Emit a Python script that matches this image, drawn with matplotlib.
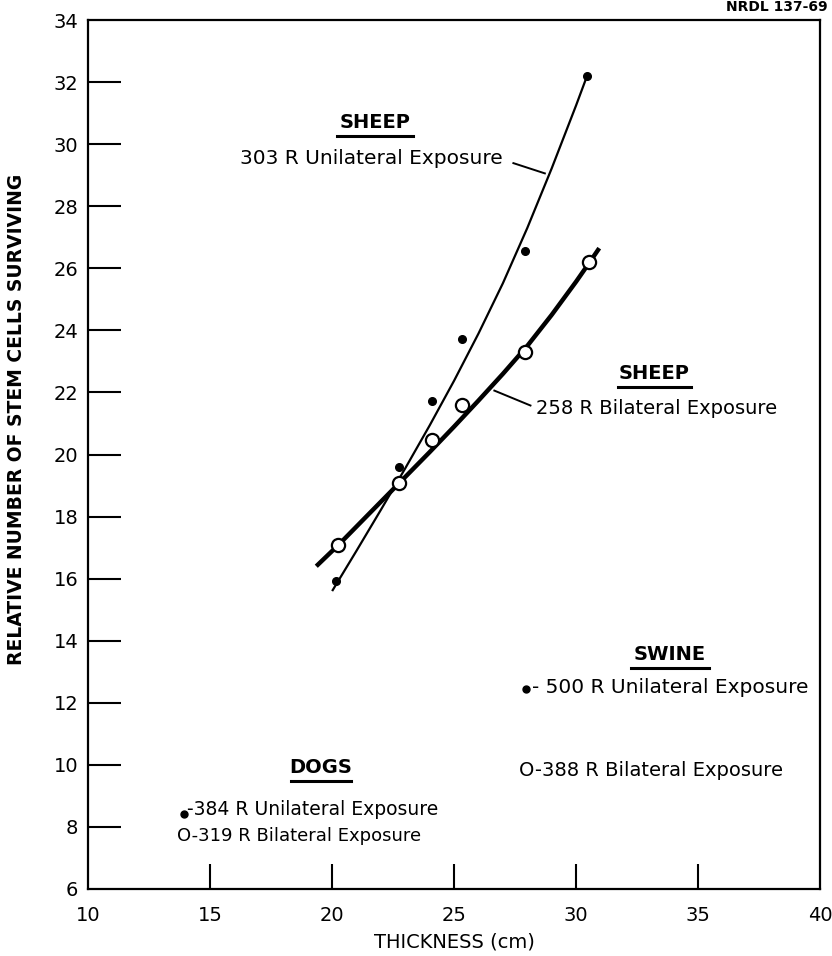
import matplotlib
matplotlib.use('Agg')
import matplotlib.pyplot as plt

plt.rcParams['font.family'] = 'DejaVu Sans'

# sheep, measured points
sheep_uni_x = [20.15, 22.75, 24.08, 25.34, 27.92, 30.44]
sheep_uni_y = [15.94, 19.59, 21.73, 23.73, 26.55, 32.19]
sheep_bi_x = [20.25, 22.75, 24.08, 25.34, 27.92, 30.55]
sheep_bi_y = [17.08, 19.08, 20.46, 21.59, 23.30, 26.19]

# hand drawn curves through the sheep points
uni_curve_x = [20.0, 21.0, 22.0, 23.0, 24.0, 25.0, 26.0, 27.0, 28.0, 29.0, 30.0, 30.45]
uni_curve_y = [15.6, 16.9, 18.22, 19.56, 20.94, 22.38, 23.9, 25.52, 27.3, 29.22, 31.25, 32.2]
bi_curve_x = [19.35, 20.25, 21.0, 22.0, 23.0, 24.0, 25.0, 26.0, 27.0, 28.0, 29.0, 30.0, 30.55, 30.95]
bi_curve_y = [16.4, 17.08, 17.68, 18.48, 19.28, 20.08, 20.9, 21.74, 22.6, 23.5, 24.5, 25.57, 26.19, 26.65]

# single points for swine and dogs
swine_uni = (27.93, 12.46)
dogs_uni = (13.91, 8.43)

x_ticks = [10, 15, 20, 25, 30, 35, 40]
y_ticks = list(range(6, 35, 2))

fig = plt.figure(figsize=(8.32, 9.56), dpi=100)
ax = fig.add_axes([0.106, 0.0701, 0.8796, 0.9089])

ax.plot(uni_curve_x, uni_curve_y, color='black', lw=1.6, solid_capstyle='butt')
ax.plot(bi_curve_x, bi_curve_y, color='black', lw=3.2, solid_capstyle='butt')
ax.plot(sheep_uni_x, sheep_uni_y, 'o', color='black', ms=5.5, zorder=3)
ax.plot(sheep_bi_x, sheep_bi_y, 'o', mfc='white', mec='black', mew=1.6, ms=9.5, zorder=4)
ax.plot(*swine_uni, 'o', color='black', ms=5)
ax.plot(*dogs_uni, 'o', color='black', ms=5)

fs = 14.5
# sheep labels
ax.text(21.77, 30.71, 'SHEEP', ha='center', va='center', fontsize=14, fontweight='bold')
ax.plot([20.19, 23.3], [30.28, 30.28], color='black', lw=2.2)
ax.text(16.24, 29.54, '303 R Unilateral Exposure', ha='left', va='center', fontsize=fs)
ax.plot([27.43, 28.72], [29.39, 29.06], color='black', lw=1.4)

ax.text(33.2, 22.6, 'SHEEP', ha='center', va='center', fontsize=14, fontweight='bold')
ax.plot([31.7, 34.7], [22.17, 22.17], color='black', lw=2.2)
ax.text(28.35, 21.49, '258 R Bilateral Exposure', ha='left', va='center', fontsize=14)
ax.plot([26.65, 28.13], [22.06, 21.58], color='black', lw=1.4)

# swine labels
ax.text(33.85, 13.57, 'SWINE', ha='center', va='center', fontsize=14, fontweight='bold')
ax.plot([32.24, 35.43], [13.12, 13.12], color='black', lw=2.2)
ax.text(28.2, 12.5, '- 500 R Unilateral Exposure', ha='left', va='center', fontsize=fs)
ax.text(27.65, 9.82, 'O-388 R Bilateral Exposure', ha='left', va='center', fontsize=14)

# dog labels
ax.text(19.52, 9.91, 'DOGS', ha='center', va='center', fontsize=14, fontweight='bold')
ax.plot([18.3, 20.76], [9.48, 9.48], color='black', lw=2.2)
ax.text(14.05, 8.57, '-384 R Unilateral Exposure', ha='left', va='center', fontsize=13.5)
ax.text(13.65, 7.72, 'O-319 R Bilateral Exposure', ha='left', va='center', fontsize=13)

ax.set_xlim(10, 40)
ax.set_ylim(6, 34)
ax.set_xticks(x_ticks)
ax.set_yticks(y_ticks)
ax.tick_params(axis='x', direction='in', length=18, width=1.5, pad=12, labelsize=14)
ax.tick_params(axis='y', direction='in', length=24, width=1.5, pad=7, labelsize=14)
# no tick marks at the corners
for t in ax.xaxis.get_major_ticks()[::len(x_ticks) - 1]:
    t.tick1line.set_visible(False)
for t in ax.yaxis.get_major_ticks()[::len(y_ticks) - 1]:
    t.tick1line.set_visible(False)
for s in ax.spines.values():
    s.set_linewidth(1.6)

ax.set_xlabel('THICKNESS (cm)', fontsize=14, labelpad=6)
ax.set_ylabel('RELATIVE NUMBER OF STEM CELLS SURVIVING', fontsize=13.5, fontweight='bold', labelpad=8)
ax.yaxis.set_label_coords(-0.085, 0.54)

fig.text(0.995, 1.0, 'NRDL 137-69', ha='right', va='top', fontsize=10, fontweight='bold')

fig.savefig('out.png', dpi=100)
